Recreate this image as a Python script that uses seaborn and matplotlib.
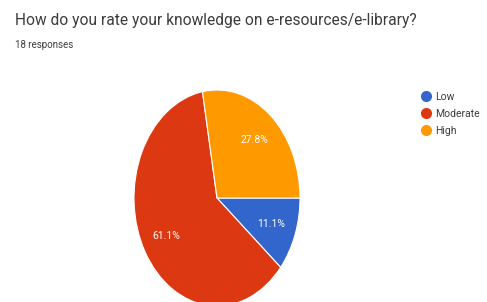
import matplotlib
matplotlib.use("Agg")
import matplotlib.pyplot as plt
import seaborn as sns
from matplotlib.lines import Line2D

sns.set_theme(style="white")
plt.rcParams['font.family'] = ['Roboto', 'DejaVu Sans']

title = "How do you rate your knowledge on e-resources/e-library?"
subtitle = "18 responses"
categories = ["Low", "Moderate", "High"]
percentages = [11.1, 61.1, 27.8]
colors = ["#3366CC", "#DC3912", "#FF9900"]

W, H = 487, 302
fig = plt.figure(figsize=(W / 100, H / 100), dpi=100)
fig.patch.set_facecolor("white")

# pie axes (elliptical pie, as in the squashed screenshot)
cx, cy, rx, ry = 217, 198, 83, 108
ax = fig.add_axes([(cx - rx) / W, (H - cy - ry) / H, 2 * rx / W, 2 * ry / H])
wedges, texts, autotexts = ax.pie(
    percentages, colors=colors, startangle=0, counterclock=False,
    autopct=lambda p: f"{p:.1f}%", pctdistance=0.7,
    wedgeprops=dict(edgecolor="white", linewidth=0.8),
    textprops=dict(color="white", fontsize=7.5))
ax.set_aspect("auto")
ax.set_xlim(-1, 1)
ax.set_ylim(-1, 1)
ax.axis("off")

fig.text(15 / W, 1 - 21 / H, title, fontsize=11.2, color="#3c3c3c", va="center", ha="left")
fig.text(15 / W, 1 - 45 / H, subtitle, fontsize=7, color="#3c3c3c", va="center", ha="left")

handles = [Line2D([0], [0], marker="o", linestyle="", markersize=7,
                  markerfacecolor=c, markeredgecolor=c) for c in colors]
fig.legend(handles, categories, loc="upper left", bbox_to_anchor=(421 / W, 1 - 92 / H),
           frameon=False, fontsize=7.5, handletextpad=0.4, labelspacing=0.65,
           handlelength=1.0, borderaxespad=0, borderpad=0,
           labelcolor="#3c3c3c")

fig.savefig("out.png", dpi=100, facecolor="white")
